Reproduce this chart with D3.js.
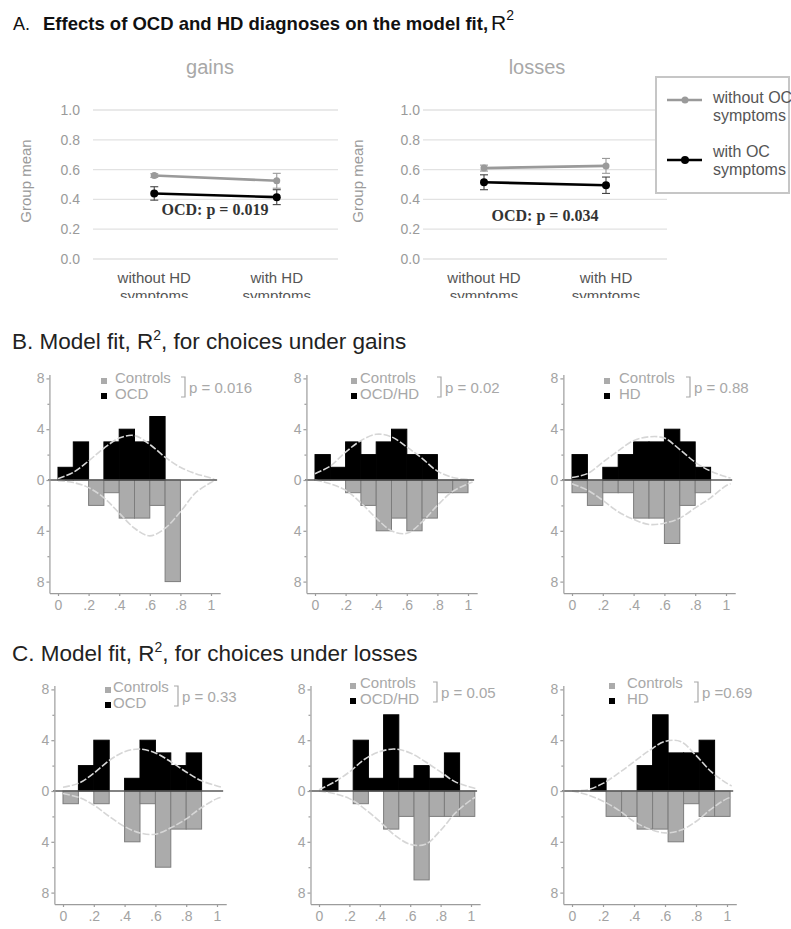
<!DOCTYPE html>
<html>
<head>
<meta charset="utf-8">
<script src="https://cdn.jsdelivr.net/npm/d3@7"></script>
<style>
  body { margin: 0; background: #fff; }
  svg { display: block; font-family: Arial, "Liberation Sans", sans-serif; }
</style>
</head>
<body>
<svg width="791" height="929"></svg>
<script>
var svg = d3.select('svg');

// ---- panel A data (group means, R^2) ----
var hdGroups = ['without HD symptoms', 'with HD symptoms'];
var ocSeries = ['without OC symptoms', 'with OC symptoms'];
var meanTicks = [0, 0.2, 0.4, 0.6, 0.8, 1.0];
var gainsNoOC = [0.56, 0.525];
var gainsNoOCErr = [0.012, 0.05];
var gainsOC = [0.44, 0.415];
var gainsOCErr = [0.045, 0.05];
var lossesNoOC = [0.61, 0.625];
var lossesNoOCErr = [0.02, 0.05];
var lossesOC = [0.515, 0.495];
var lossesOCErr = [0.05, 0.055];
var anovaP = ['OCD: p = 0.019', 'OCD: p = 0.034'];

// ---- panels B and C data (histogram counts, bins of 0.1) ----
var patientGroups = ['OCD', 'OCD/HD', 'HD'];
var gainsPatients = [
  [1, 3, 0, 3, 4, 3, 5, 0, 0, 0],
  [2, 1, 3, 2, 3, 4, 2, 2, 0, 0],
  [2, 0, 1, 2, 3, 3, 4, 3, 1, 0]
];
var gainsControls = [
  [0, 0, 2, 1, 3, 3, 2, 8, 0, 0],
  [0, 0, 1, 2, 4, 3, 4, 3, 1, 1],
  [1, 2, 1, 1, 3, 3, 5, 2, 1, 0]
];
var lossesPatients = [
  [0, 2, 4, 0, 1, 4, 3, 2, 3, 0],
  [1, 0, 4, 1, 6, 1, 2, 1, 3, 0],
  [0, 1, 0, 0, 2, 6, 3, 3, 4, 0]
];
var lossesControls = [
  [1, 0, 1, 0, 4, 1, 6, 3, 3, 0],
  [0, 0, 1, 0, 3, 2, 7, 2, 2, 2],
  [0, 0, 2, 2, 3, 3, 4, 1, 2, 2]
];
var gainsBinStart = [0, 0, 0];
var lossesBinStart = [0, 0.025, 0.02];
var binWidth = 0.1;
var gainsP = ['p = 0.016', 'p = 0.02', 'p = 0.88'];
var lossesP = ['p = 0.33', 'p = 0.05', 'p =0.69'];

// fitted density curves at these R^2 values
var curveX = [0, 0.1, 0.2, 0.3, 0.4, 0.5, 0.6, 0.7, 0.8, 0.9, 1.0, 1.03];
var gainsPatientCurve = [
  [0.1, 0.6, 1.5, 2.5, 3.3, 3.5, 2.8, 1.8, 1.0, 0.5, 0.15, 0],
  [0.5, 1.1, 2.2, 3.1, 3.6, 3.4, 2.6, 1.7, 0.7, 0.2, 0.05, 0],
  [0.2, 0.5, 1.4, 2.3, 3.1, 3.4, 3.3, 2.4, 1.4, 0.7, 0.25, 0.15]
];
var gainsControlCurve = [
  [-0.05, -0.2, -0.6, -1.4, -2.6, -3.8, -4.4, -3.8, -2.5, -1.0, -0.2, 0],
  [0, -0.3, -0.8, -1.8, -3.0, -4.0, -4.2, -3.3, -2.0, -0.9, -0.3, -0.15],
  [-0.3, -0.8, -1.6, -2.5, -3.1, -3.5, -3.4, -3.0, -2.2, -1.4, -0.45, -0.3]
];
var lossesPatientCurve = [
  [0.3, 0.6, 1.4, 2.4, 3.1, 3.3, 3.0, 2.3, 1.5, 0.8, 0.4, 0.3],
  [0.1, 0.7, 1.5, 2.5, 3.1, 3.3, 3.0, 2.3, 1.5, 0.7, 0.3, 0.2],
  [0, 0.1, 0.6, 1.4, 2.3, 3.2, 3.9, 3.9, 2.8, 1.5, 0.6, 0.4]
];
var lossesControlCurve = [
  [-0.2, -0.5, -1.1, -2.0, -2.8, -3.3, -3.4, -2.9, -2.2, -1.3, -0.6, -0.5],
  [0, -0.2, -0.6, -1.4, -2.4, -3.5, -4.2, -4.2, -3.1, -1.7, -0.7, -0.5],
  [0, -0.3, -0.8, -1.5, -2.4, -3.0, -3.3, -3.1, -2.4, -1.4, -0.6, -0.5]
];
var countTicks = [-8, -4, 0, 4, 8];
var countMinor = [-6, -2, 2, 6];
var r2Ticks = [0, 0.2, 0.4, 0.6, 0.8, 1];

// ---------------- titles ----------------
svg.append('text').attr('x', 13).attr('y', 30).attr('fill', '#111')
  .style('font-size', '18px').text('A.');
svg.append('text').attr('x', 43).attr('y', 30).attr('fill', '#111')
  .style('font-size', '18.5px').style('font-weight', 'bold')
  .text('Effects of OCD and HD diagnoses on the model fit,');
var tR = svg.append('text').attr('x', 491).attr('y', 30).attr('fill', '#111').style('font-size', '21px');
tR.append('tspan').text('R');
tR.append('tspan').attr('dy', -10).style('font-size', '14px').text('2');

var section_title = (y, prefix, suffix) => {
  var t = svg.append('text').attr('x', 12).attr('y', y).attr('fill', '#222').style('font-size', '22.5px');
  t.append('tspan').text(prefix);
  t.append('tspan').attr('dy', -9).style('font-size', '14px').text('2');
  t.append('tspan').attr('dy', 9).text(suffix);
};
section_title(349, 'B. Model fit, R', ', for choices under gains');
section_title(661, 'C. Model fit, R', ', for choices under losses');

// ---------------- panel A ----------------
svg.append('defs').append('clipPath').attr('id', 'clipA')
  .append('rect').attr('x', 0).attr('y', 40).attr('width', 791).attr('height', 258);

var yMean = d3.scaleLinear().domain([0, 1]).range([259, 110]);

var mean_panel = o => {
  var g = svg.append('g').attr('clip-path', 'url(#clipA)');
  var x = d3.scalePoint().domain(hdGroups).range([o.left, o.right]).padding(0.5);

  g.selectAll('line.grid').data(meanTicks).enter().append('line')
    .attr('x1', o.left).attr('x2', o.right)
    .attr('y1', d => yMean(d)).attr('y2', d => yMean(d))
    .attr('stroke', '#e2e2e2').attr('stroke-width', 1.3);

  var yAxis = d3.axisLeft(yMean).tickValues(meanTicks).tickFormat(d3.format('.1f'))
    .tickSize(0).tickPadding(o.left - o.labelX);
  g.append('g').attr('transform', 'translate(' + o.left + ',0)').call(yAxis)
    .call(a => a.select('.domain').remove())
    .selectAll('text').attr('fill', '#9a9a9a').style('font-size', '14px');

  g.append('text').attr('transform', 'translate(' + o.titleX + ',181) rotate(-90)')
    .attr('text-anchor', 'middle').attr('fill', '#9a9a9a').style('font-size', '15px').text('Group mean');

  g.append('text').attr('x', o.headX).attr('y', 74).attr('text-anchor', 'middle')
    .attr('fill', '#a8a8a8').style('font-size', '20px').text(o.head);

  // category labels (two lines)
  hdGroups.forEach(c => {
    var words = c.split(' ');
    var t = g.append('text').attr('text-anchor', 'middle').attr('fill', '#555').style('font-size', '15px');
    t.append('tspan').attr('x', x(c)).attr('y', 283).text(words.slice(0, -1).join(' '));
    t.append('tspan').attr('x', x(c)).attr('y', 301).text(words[words.length - 1]);
  });

  var series = [
    {vals: o.noOC, err: o.noOCErr, color: '#9a9a9a', errColor: '#9a9a9a', r: 3.5},
    {vals: o.oc, err: o.ocErr, color: '#000', errColor: '#444', r: 4}
  ];
  var line = d3.line().x((d, i) => x(hdGroups[i])).y(d => yMean(d));
  series.forEach(s => {
    var pts = s.vals.map((v, i) => ({cat: hdGroups[i], v: v, e: s.err[i]}));
    g.append('path').datum(s.vals).attr('d', line)
      .attr('fill', 'none').attr('stroke', s.color).attr('stroke-width', 2.6);
    var eb = g.selectAll(null).data(pts).enter().append('g').attr('stroke', s.errColor).attr('stroke-width', 1.1);
    eb.append('line').attr('x1', d => x(d.cat)).attr('x2', d => x(d.cat))
      .attr('y1', d => yMean(d.v - d.e)).attr('y2', d => yMean(d.v + d.e));
    eb.append('line').attr('x1', d => x(d.cat) - 4).attr('x2', d => x(d.cat) + 4)
      .attr('y1', d => yMean(d.v - d.e)).attr('y2', d => yMean(d.v - d.e));
    eb.append('line').attr('x1', d => x(d.cat) - 4).attr('x2', d => x(d.cat) + 4)
      .attr('y1', d => yMean(d.v + d.e)).attr('y2', d => yMean(d.v + d.e));
    g.selectAll(null).data(pts).enter().append('circle')
      .attr('cx', d => x(d.cat)).attr('cy', d => yMean(d.v)).attr('r', s.r).attr('fill', s.color);
  });

  g.append('text').attr('x', o.pX).attr('y', o.pY).attr('text-anchor', 'middle')
    .attr('fill', '#333').style('font-family', '"Liberation Serif", "Times New Roman", serif')
    .style('font-weight', 'bold').style('font-size', '16px').text(o.p);
};

mean_panel({left: 93, right: 338, labelX: 80, titleX: 31, head: 'gains', headX: 210,
  noOC: gainsNoOC, noOCErr: gainsNoOCErr, oc: gainsOC, ocErr: gainsOCErr,
  p: anovaP[0], pX: 215, pY: 215});
mean_panel({left: 423, right: 667, labelX: 420, titleX: 363, head: 'losses', headX: 537,
  noOC: lossesNoOC, noOCErr: lossesNoOCErr, oc: lossesOC, ocErr: lossesOCErr,
  p: anovaP[1], pX: 545, pY: 221});

// legend for panel A
var legA = svg.append('g');
legA.append('rect').attr('x', 656).attr('y', 77).attr('width', 133).attr('height', 116)
  .attr('fill', '#fff').attr('stroke', '#c6c6c6').attr('stroke-width', 2);
[{c: '#9a9a9a', y: 100, r: 3.5, t1: 103, t2: 121}, {c: '#000', y: 160, r: 4, t1: 157, t2: 175}].forEach((s, i) => {
  legA.append('line').attr('x1', 667).attr('x2', 702).attr('y1', s.y).attr('y2', s.y)
    .attr('stroke', s.c).attr('stroke-width', 2.6);
  legA.append('circle').attr('cx', 685).attr('cy', s.y).attr('r', s.r).attr('fill', s.c);
  var words = ocSeries[i].split(' ');
  var t = legA.append('text').attr('fill', '#555').style('font-size', '16px');
  t.append('tspan').attr('x', 713).attr('y', s.t1).text(words.slice(0, -1).join(' '));
  t.append('tspan').attr('x', 713).attr('y', s.t2).text(words[words.length - 1]);
});

// ---------------- histogram panels (B, C) ----------------
var fmtR2 = d => d === 0 ? '0' : d === 1 ? '1' : d3.format('.1f')(d).replace(/^0/, '');

var hist_panel = o => {
  var g = svg.append('g');
  var x = d3.scaleLinear().domain([0, 1]).range([o.x0, o.x1]);
  var unit = 12.7;
  var y = d3.scaleLinear().domain([-8, 8]).range([o.zero + 8 * unit, o.zero - 8 * unit]);

  var bins = o.up.map((v, i) => ({x0: o.start + i * binWidth, up: v, down: o.down[i]}));

  g.selectAll('rect.ctrl').data(bins.filter(d => d.down > 0)).enter().append('rect')
    .attr('x', d => x(d.x0)).attr('width', d => x(d.x0 + binWidth) - x(d.x0))
    .attr('y', y(0)).attr('height', d => y(-d.down) - y(0))
    .attr('fill', '#ababab').attr('stroke', '#7d7d7d').attr('stroke-width', 1);

  g.selectAll('rect.pat').data(bins.filter(d => d.up > 0)).enter().append('rect')
    .attr('x', d => x(d.x0)).attr('width', d => x(d.x0 + binWidth) - x(d.x0))
    .attr('y', d => y(d.up)).attr('height', d => y(0) - y(d.up))
    .attr('fill', '#000').attr('stroke', '#000').attr('stroke-width', 1);

  var line = d3.line().x(d => x(d[0])).y(d => y(d[1])).curve(d3.curveCatmullRom);
  [o.upCurve, o.downCurve].forEach(c => {
    g.append('path').datum(curveX.map((cx, i) => [cx, c[i]])).attr('d', line)
      .attr('fill', 'none').attr('stroke', '#d6d6d6').attr('stroke-width', 1.6)
      .attr('stroke-dasharray', '7,2');
  });

  // zero line
  g.append('line').attr('x1', x(-0.065)).attr('x2', x(1.04)).attr('y1', y(0)).attr('y2', y(0))
    .attr('stroke', '#5a5a5a').attr('stroke-width', 1.6);

  // axes
  var axisX = x(-0.056);
  var yAx = y.copy().domain([-8.9, 8.3]).range([y(-8.9), y(8.3)]);
  g.append('g').attr('transform', 'translate(' + axisX + ',0)')
    .call(d3.axisLeft(yAx).tickValues(countTicks).tickFormat(d => Math.abs(d))
      .tickSize(3).tickSizeOuter(0).tickPadding(2));
  g.append('g').attr('transform', 'translate(' + axisX + ',0)')
    .call(d3.axisLeft(yAx).tickValues(countMinor).tickFormat('').tickSize(2).tickSizeOuter(0))
    .select('.domain').remove();
  var xAx = x.copy().domain([-0.056, 1.06]).range([axisX, x(1.06)]);
  g.append('g').attr('transform', 'translate(0,' + y(-8.9) + ')')
    .call(d3.axisBottom(xAx).tickValues(r2Ticks).tickFormat(fmtR2)
      .tickSize(3).tickSizeOuter(0).tickPadding(4));
  g.selectAll('.domain, .tick line').attr('stroke', '#9c9c9c').attr('stroke-width', 1.2);
  g.selectAll('.tick text').attr('fill', '#a3a3a3').style('font-size', '14px')
    .style('font-family', 'Arial, "Liberation Sans", sans-serif');

  // legend
  var L = o.leg;
  var lg = g.append('g').style('font-size', '15px').attr('fill', '#a8a8a8');
  lg.append('rect').attr('x', L.sq).attr('y', L.y - 5).attr('width', 6).attr('height', 6).attr('fill', '#ababab');
  lg.append('rect').attr('x', L.sq).attr('y', L.y + 10).attr('width', 6).attr('height', 6).attr('fill', '#000');
  lg.append('text').attr('x', L.tx).attr('y', L.y).text('Controls');
  lg.append('text').attr('x', L.tx).attr('y', L.y + 16).text(o.group);
  lg.append('path')
    .attr('d', 'M' + (L.br - 4) + ',' + (L.y - 6) + 'H' + L.br + 'V' + (L.y + 14) + 'H' + (L.br - 4))
    .attr('fill', 'none').attr('stroke', '#a8a8a8').attr('stroke-width', 1.2);
  lg.append('text').attr('x', L.px).attr('y', L.y + 10).text(o.p);
};

var gainsLayout = [
  {x0: 58, x1: 211, leg: {sq: 101, tx: 115, br: 185, px: 189, y: 383}},
  {x0: 315, x1: 468, leg: {sq: 351, tx: 360, br: 441, px: 445, y: 383}},
  {x0: 572, x1: 726, leg: {sq: 604, tx: 619, br: 690, px: 694, y: 383}}
];
var lossesLayout = [
  {x0: 63, x1: 217, leg: {sq: 105, tx: 113, br: 178, px: 182, y: 692}},
  {x0: 319, x1: 471, leg: {sq: 350, tx: 360, br: 437, px: 441, y: 688}},
  {x0: 572, x1: 727, leg: {sq: 609, tx: 627, br: 698, px: 702, y: 688}}
];

patientGroups.forEach((grp, i) => {
  hist_panel(Object.assign({zero: 480, group: grp, up: gainsPatients[i], down: gainsControls[i],
    start: gainsBinStart[i], upCurve: gainsPatientCurve[i], downCurve: gainsControlCurve[i],
    p: gainsP[i]}, gainsLayout[i]));
  hist_panel(Object.assign({zero: 791, group: grp, up: lossesPatients[i], down: lossesControls[i],
    start: lossesBinStart[i], upCurve: lossesPatientCurve[i], downCurve: lossesControlCurve[i],
    p: lossesP[i]}, lossesLayout[i]));
});
</script>
</body>
</html>
